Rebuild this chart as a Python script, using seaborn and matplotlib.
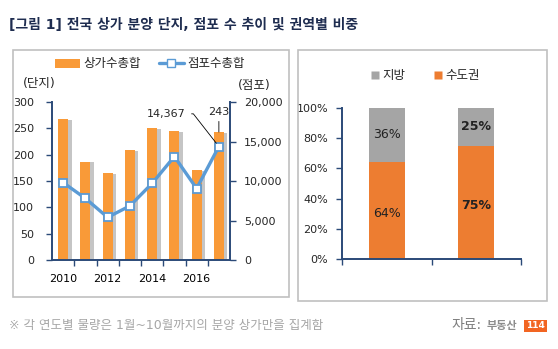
import numpy as np
import pandas as pd
import matplotlib
matplotlib.use("Agg")
import matplotlib.pyplot as plt
import matplotlib.patheffects as pe
from matplotlib.patches import Rectangle, Patch
from matplotlib.lines import Line2D
from matplotlib.ticker import FuncFormatter, MultipleLocator, FixedLocator
import seaborn as sns

# ---- data -------------------------------------------------------------
years = [2010, 2011, 2012, 2013, 2014, 2015, 2016, 2017]
complexes = [268, 187, 165, 208, 251, 245, 171, 243]          # 상가수총합 (단지)
stores = [9800, 7800, 5400, 6850, 9700, 13100, 9050, 14367]   # 점포수총합 (점포)
year_ticks = ["2010", "2012", "2014", "2016"]

groups = ["A", "B"]
capital_share = [64, 75]   # 수도권
region_share = [36, 25]    # 지방

# ---- style ------------------------------------------------------------
sns.set_theme(style="white")
plt.rcParams["font.family"] = ["DejaVu Sans", "Noto Sans CJK KR"]
plt.rcParams["axes.unicode_minus"] = False

NAVY = "#2B4A78"
BAR_ORANGE = "#F99A38"
LINE_BLUE = "#5B9BD5"
GRAY = "#A5A5A5"
ORANGE = "#ED7D31"

W, H = 558, 349
fig = plt.figure(figsize=(W / 100, H / 100), dpi=100)
fig.patch.set_facecolor("white")


def fx(px):
    return px / W


def fy(py):
    return 1 - py / H


# panel frames
for (x0, y0, x1, y1) in [(12.5, 50, 289, 297), (297.5, 50, 546.5, 301)]:
    fig.patches.append(Rectangle((fx(x0), fy(y1)), fx(x1) - fx(x0), fy(y0) - fy(y1),
                                 transform=fig.transFigure, fill=False,
                                 edgecolor="#C0C0C0", linewidth=1.2))

# title and footer
fig.text(fx(9), fy(25), "[그림 1] 전국 상가 분양 단지, 점포 수 추이 및 권역별 비중",
         fontsize=10, fontweight="bold", color="#1F2D50", va="center", ha="left")
fig.text(fx(9), fy(326), "※ 각 연도별 물량은 1월~10월까지의 분양 상가만을 집계함",
         fontsize=9, color="#A6A6A6", va="center", ha="left")
fig.text(fx(451), fy(325), "자료:", fontsize=10, color="#7F7F7F", va="center", ha="left")
fig.text(fx(487), fy(326), "부동산", fontsize=8, fontweight="bold", color="#8C8C8C",
         va="center", ha="left")
fig.text(fx(535.5), fy(326), "114", fontsize=6.5, fontweight="bold", color="white",
         va="center", ha="center",
         bbox=dict(boxstyle="square,pad=0.2", facecolor="#F26522", edgecolor="none"))

# ---- left chart: bars + line ------------------------------------------
ax = fig.add_axes([fx(52), fy(260), fx(230) - fx(52), fy(102) - fy(260)])
df = pd.DataFrame({"year": [str(y) for y in years], "complexes": complexes})
sns.barplot(data=df, x="year", y="complexes", ax=ax, color=BAR_ORANGE,
            width=0.45, saturation=1, edgecolor="none")
for p in ax.patches:
    p.set_path_effects([pe.SimplePatchShadow(offset=(2.5, -0.5), shadow_rgbFace="#7F7F7F",
                                             alpha=0.45), pe.Normal()])
ax.set_xlim(-0.5, len(years) - 0.5)
ax.set_ylim(0, 300)
ax.yaxis.set_major_locator(MultipleLocator(50))
ax.set_xticks([0, 2, 4, 6])
ax.set_xticklabels(year_ticks)
ax.xaxis.set_minor_locator(FixedLocator(np.arange(0.5, len(years) - 1, 1.0)))
ax.tick_params(axis="x", which="major", length=0, labelsize=8, pad=10, colors="black")
ax.tick_params(axis="x", which="minor", length=4, width=1, color=NAVY, direction="out", bottom=True)
ax.tick_params(axis="y", which="major", length=4, width=1, color=NAVY, direction="out",
               left=True, labelsize=8, pad=9)
ax.set_xlabel("")
ax.set_ylabel("")
for s in ["top", "right"]:
    ax.spines[s].set_visible(False)
for s in ["left", "bottom"]:
    ax.spines[s].set_color(NAVY)
    ax.spines[s].set_linewidth(1.4)

ax2 = ax.twinx()
sns.lineplot(x=np.arange(len(years)), y=stores, ax=ax2, color=LINE_BLUE, linewidth=2.4,
             marker="s", markersize=5.5, markerfacecolor="white",
             markeredgecolor=LINE_BLUE, markeredgewidth=1.3)
ax2.set_ylim(0, 20000)
ax2.yaxis.set_major_locator(MultipleLocator(5000))
ax2.yaxis.set_major_formatter(FuncFormatter(lambda v, _: f"{int(v):,}"))
ax2.tick_params(axis="y", length=4, width=1, color=NAVY, direction="out", right=True,
                labelsize=8, pad=6)
ax2.set_ylabel("")
for s in ["top", "left", "bottom"]:
    ax2.spines[s].set_visible(False)
ax2.spines["right"].set_color(NAVY)
ax2.spines["right"].set_linewidth(1.4)

# value callouts for the latest year
last = len(years) - 1
ax2.annotate(f"{stores[-1]:,}", xy=(last, stores[-1]), xytext=(5.5, 18500),
             ha="right", va="center", fontsize=8,
             arrowprops=dict(arrowstyle="-", color="black", lw=0.6,
                             connectionstyle="angle,angleA=0,angleB=128,rad=0",
                             shrinkA=2, shrinkB=3))
ax.annotate(f"{complexes[-1]}", xy=(last, complexes[-1]), xytext=(last, 272),
            ha="center", va="bottom", fontsize=8,
            arrowprops=dict(arrowstyle="-", color="black", lw=0.6, shrinkA=1, shrinkB=0))

fig.text(fx(39.5), fy(84), "(단지)", fontsize=9, ha="center", va="center")
fig.text(fx(254), fy(86), "(점포)", fontsize=9, ha="center", va="center")

handles = [Patch(facecolor=BAR_ORANGE, edgecolor="none", label="상가수총합"),
           Line2D([0], [0], color=LINE_BLUE, lw=2.4, marker="s", markersize=5.5,
                  markerfacecolor="white", markeredgecolor=LINE_BLUE, label="점포수총합")]
fig.legend(handles=handles, loc="center", bbox_to_anchor=(fx(150), fy(64)), ncol=2,
           frameon=False, fontsize=9, handlelength=2.0, handleheight=0.7,
           columnspacing=1.4, handletextpad=0.3)

# ---- right chart: stacked shares --------------------------------------
bx = fig.add_axes([fx(342), fy(259.3), fx(521) - fx(342), fy(107.7) - fy(259.3)])
sdf = pd.DataFrame({"group": groups, "capital": capital_share,
                    "total": [c + r for c, r in zip(capital_share, region_share)]})
sns.barplot(data=sdf, x="group", y="total", ax=bx, color=GRAY, width=0.4,
            saturation=1, edgecolor="none")
sns.barplot(data=sdf, x="group", y="capital", ax=bx, color=ORANGE, width=0.4,
            saturation=1, edgecolor="none")
bx.set_xlim(-0.5, len(groups) - 0.5)
bx.set_ylim(0, 100)
bx.yaxis.set_major_locator(MultipleLocator(20))
bx.yaxis.set_major_formatter(FuncFormatter(lambda v, _: f"{int(v)}%"))
bx.set_xticks([])
bx.xaxis.set_minor_locator(FixedLocator([-0.5, 0.5, 1.5]))
bx.tick_params(axis="x", which="minor", length=4, width=1, color=NAVY, direction="out", bottom=True)
bx.tick_params(axis="y", length=4, width=1, color=NAVY, direction="out", left=True,
               labelsize=8, pad=6)
bx.set_xlabel("")
bx.set_ylabel("")
for s in ["top", "right"]:
    bx.spines[s].set_visible(False)
for s in ["left", "bottom"]:
    bx.spines[s].set_color(NAVY)
    bx.spines[s].set_linewidth(1.4)

for i, (c, r) in enumerate(zip(capital_share, region_share)):
    weight = "bold" if i == 1 else "normal"
    bx.text(i, c * 0.47, f"{c}%", ha="center", va="center", fontsize=9, fontweight=weight,
            color="#222222")
    bx.text(i, c + r * 0.5, f"{r}%", ha="center", va="center", fontsize=9, fontweight=weight,
            color="#222222")

rhandles = [Line2D([0], [0], linestyle="none", marker="s", markersize=6,
                   markerfacecolor=GRAY, markeredgecolor="none", label="지방"),
            Line2D([0], [0], linestyle="none", marker="s", markersize=6,
                   markerfacecolor=ORANGE, markeredgecolor="none", label="수도권")]
fig.legend(handles=rhandles, loc="center", bbox_to_anchor=(fx(425), fy(76)), ncol=2,
           frameon=False, fontsize=9, handlelength=0.8, handletextpad=0.2,
           columnspacing=2.2)

fig.savefig("out.png", dpi=100, facecolor="white")
